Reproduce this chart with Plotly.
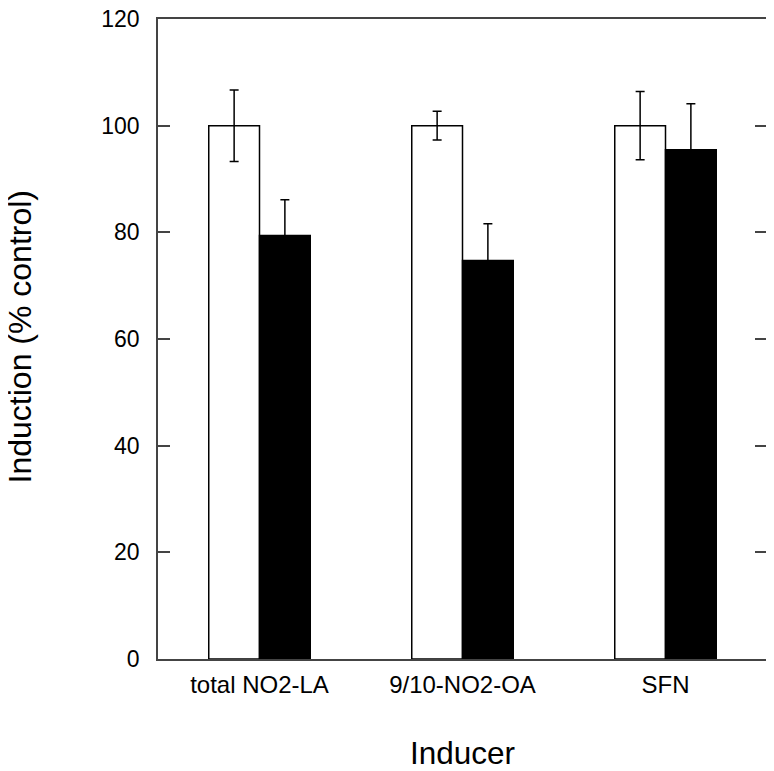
import plotly.graph_objects as go

categories = ["total NO2-LA", "9/10-NO2-OA", "SFN"]
control_values = [100, 100, 100]
control_errors = [6.7, 2.7, 6.4]
treated_values = [79.4, 74.7, 95.5]
treated_errors = [6.7, 6.9, 8.6]
y_ticks = [0, 20, 40, 60, 80, 100, 120]

font_family = "Liberation Sans, Arial, Helvetica, sans-serif"

fig = go.Figure()
fig.add_trace(go.Bar(
    x=categories, y=control_values,
    marker=dict(color="white", line=dict(color="black", width=1.5)),
    error_y=dict(type="data", array=control_errors, color="black", thickness=1.5, width=4.5),
    showlegend=False,
))
fig.add_trace(go.Bar(
    x=categories, y=treated_values,
    marker=dict(color="black", line=dict(color="black", width=1.5)),
    error_y=dict(type="data", array=treated_errors, color="black", thickness=1.5, width=4.5),
    showlegend=False,
))

fig.update_layout(
    width=774, height=771,
    margin=dict(l=150, r=15, t=11, b=120, autoexpand=False),
    paper_bgcolor="white", plot_bgcolor="white",
    barmode="group", bargap=0.5, bargroupgap=0,
    font=dict(family=font_family, color="black"),
    xaxis=dict(
        showline=True, linecolor="#444", linewidth=1.5, mirror=True,
        ticks="", showgrid=False, zeroline=False, automargin=False,
        tickfont=dict(size=24), ticklabelstandoff=3,
        title=dict(text="Inducer", font=dict(size=31.5), standoff=45),
        range=[-0.5, 2.5],
    ),
    yaxis=dict(
        showline=True, linecolor="#444", linewidth=1.5, mirror="ticks",
        ticks="inside", ticklen=12, tickwidth=1.5, tickcolor="#444",
        tickvals=y_ticks, range=[0, 120],
        showgrid=False, zeroline=False, automargin=False,
        tickfont=dict(size=23), ticklabelstandoff=12,
        ticklabeloverflow="allow",
    ),
    annotations=[dict(
        text="Induction (% control)", textangle=-90,
        xref="paper", yref="paper", x=-0.226, y=0.503,
        xanchor="center", yanchor="middle", showarrow=False,
        font=dict(size=32, family=font_family, color="black"),
    )],
)

fig.write_html("out.html")
